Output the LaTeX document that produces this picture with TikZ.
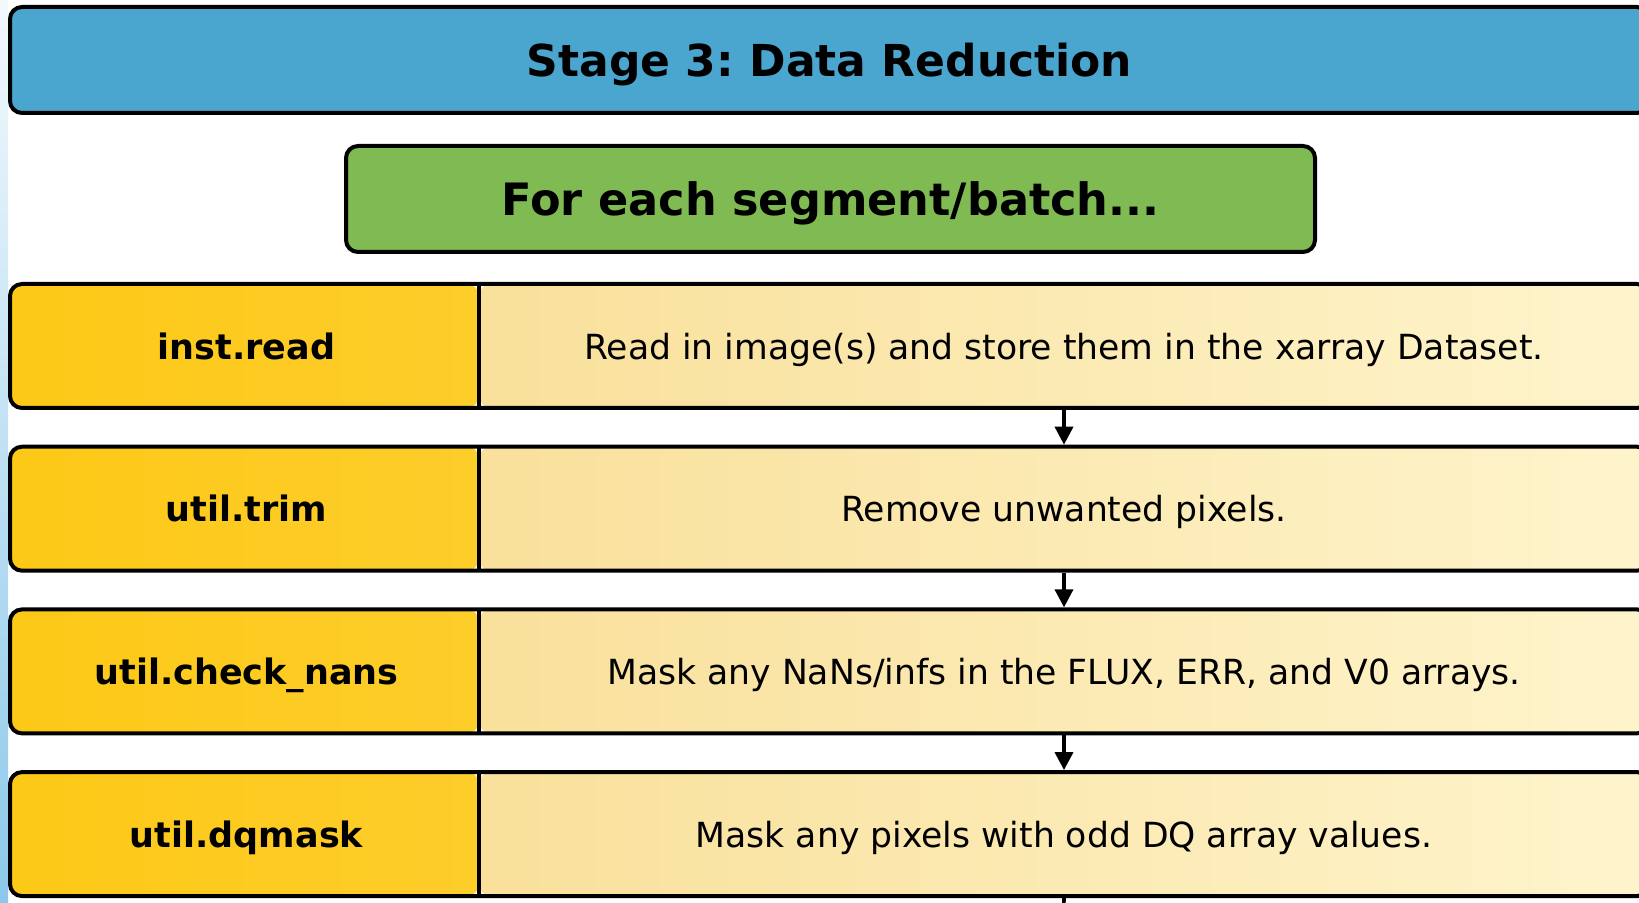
\documentclass[tikz,border=0pt]{standalone}
\usepackage{fontspec}
\setmainfont{DejaVu Sans}
\usepackage{tikz}
\usetikzlibrary{calc}
\usetikzlibrary{arrows.meta}
\usepackage{xcolor}
\frenchspacing
\definecolor{stripTop}{RGB}{243,249,253}
\definecolor{stripBot}{RGB}{140,200,234}
\definecolor{stageblue}{RGB}{74,166,206}
\definecolor{loopgreen}{RGB}{128,186,82}
\definecolor{keyleft}{RGB}{253,201,23}
\definecolor{keyright}{RGB}{252,214,90}
\definecolor{descleft}{RGB}{249,224,155}
\definecolor{descright}{RGB}{254,244,204}
\newcommand{\unitpx}{0.5pt}
\newcommand{\keyW}{469}
\newcommand{\rowW}{1639}
\newcommand{\rowH}{124}
\newcommand{\rowPitch}{162.7}
\tikzstyle{bordered}=[draw, line width=2pt, rounded corners=6pt, inner sep=0pt, text height=16.8pt, text depth=0pt]
\tikzstyle{stagebox}=[bordered, fill=stageblue, minimum width=\rowW*\unitpx, minimum height=106*\unitpx, font=\fontsize{22}{26}\selectfont\bfseries]
\tikzstyle{loopbox}=[bordered, fill=loopgreen, minimum width=969*\unitpx, minimum height=106*\unitpx, font=\fontsize{22.3}{26}\selectfont\bfseries]
\tikzstyle{rowbox}=[bordered, minimum width=\rowW*\unitpx, minimum height=\rowH*\unitpx, path picture={
	\shade[left color=keyleft, right color=keyright] (path picture bounding box.south west) rectangle ($(path picture bounding box.north west)+(\keyW*\unitpx,0)$);
	\shade[left color=descleft, right color=descright] ($(path picture bounding box.south west)+(\keyW*\unitpx,0)$) rectangle (path picture bounding box.north east);
	\draw[line width=2pt] ($(path picture bounding box.south west)+(\keyW*\unitpx,0)$) -- ($(path picture bounding box.north west)+(\keyW*\unitpx,0)$);
}]
\tikzstyle{keytext}=[inner sep=0pt, text height=13.2pt, text depth=0pt, font=\fontsize{17.5}{21}\selectfont\bfseries]
\tikzstyle{desctext}=[inner sep=0pt, text height=13.1pt, text depth=0pt, font=\fontsize{17.3}{21}\selectfont]
\tikzstyle{flow>}=[line width=1.8pt, -{Triangle[length=9pt,width=9pt]}]

\begin{document}
\begin{tikzpicture}[x=\unitpx,y=-\unitpx]
\useasboundingbox (0,0) rectangle (1639,903);
\shade[top color=stripTop, bottom color=stripBot] (0,0) rectangle (8,903);
\node[stagebox] (stage) at (829.5,60) {Stage 3: Data Reduction};
\node[loopbox] (loop) at (830.5,199) {For each segment/batch...};
\foreach \i/\key/\desc in {1/inst.read/{Read in image(s) and store them in the xarray Dataset.},
	2/util.trim/{Remove unwanted pixels.},
	3/util.check\_nans/{Mask any NaNs/infs in the FLUX, ERR, and V0 arrays.},
	4/util.dqmask/{Mask any pixels with odd DQ array values.}} {
	\node[rowbox] (row\i) at (829.5,{346+(\i-1)*\rowPitch}) {};
	\node[keytext] (key\i) at ($(row\i.west)+(\keyW/2+4,0)$) {\key};
	\node[desctext] (desc\i) at ($(row\i.east)!.5!(row\i.west)+(\keyW/2,0)$) {\desc};
}
\coordinate (next) at (1063,950);
\draw[flow>] (row1.south -| desc1) -- (row2.north -| desc2);
\draw[flow>] (row2.south -| desc2) -- (row3.north -| desc3);
\draw[flow>] (row3.south -| desc3) -- (row4.north -| desc4);
\draw[flow>] (row4.south -| desc4) -- (next);
\end{tikzpicture}
\end{document}
